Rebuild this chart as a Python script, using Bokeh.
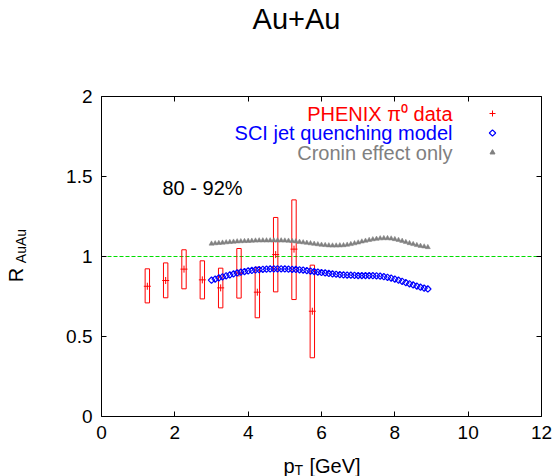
import numpy as np
from bokeh.plotting import figure
from bokeh.models import Range1d, LinearAxis, Label, FixedTicker
from bokeh.embed import file_html
from bokeh.resources import INLINE

# ---------------- data ----------------
pt_data = [1.25, 1.75, 2.25, 2.75, 3.25, 3.75, 4.25, 4.75, 5.25, 5.75]
r_data = [0.814, 0.850, 0.921, 0.854, 0.804, 0.896, 0.777, 1.012, 1.046, 0.658]
sys_hi = [0.923, 0.960, 1.042, 0.973, 0.927, 1.050, 0.933, 1.244, 1.354, 0.946]
sys_lo = [0.710, 0.742, 0.798, 0.735, 0.679, 0.740, 0.617, 0.779, 0.731, 0.367]

pt_model = [3.0, 3.1, 3.2, 3.3, 3.4, 3.5, 3.6, 3.7, 3.8, 3.9,
            4.0, 4.1, 4.2, 4.3, 4.4, 4.5, 4.6, 4.7, 4.8, 4.9,
            5.0, 5.1, 5.2, 5.3, 5.4, 5.5, 5.6, 5.7, 5.8, 5.9,
            6.0, 6.1, 6.2, 6.3, 6.4, 6.5, 6.6, 6.7, 6.8, 6.9,
            7.0, 7.1, 7.2, 7.3, 7.4, 7.5, 7.6, 7.7, 7.8, 7.9,
            8.0, 8.1, 8.2, 8.3, 8.4, 8.5, 8.6, 8.7, 8.8, 8.9]
r_sci = [0.852, 0.859, 0.866, 0.873, 0.879, 0.885, 0.891, 0.897, 0.902, 0.906,
         0.910, 0.913, 0.916, 0.918, 0.920, 0.921, 0.922, 0.923, 0.923, 0.923,
         0.922, 0.921, 0.920, 0.919, 0.917, 0.915, 0.912, 0.909, 0.906, 0.903,
         0.900, 0.897, 0.894, 0.891, 0.889, 0.887, 0.885, 0.884, 0.883, 0.882,
         0.881, 0.881, 0.881, 0.881, 0.880, 0.879, 0.877, 0.874, 0.870, 0.865,
         0.859, 0.852, 0.845, 0.837, 0.829, 0.822, 0.815, 0.808, 0.802, 0.797]
r_cronin = [1.080, 1.082, 1.084, 1.086, 1.088, 1.090, 1.092, 1.094, 1.095, 1.096,
            1.097, 1.098, 1.099, 1.100, 1.100, 1.100, 1.100, 1.100, 1.100, 1.100,
            1.099, 1.098, 1.096, 1.094, 1.091, 1.088, 1.085, 1.082, 1.079, 1.076,
            1.073, 1.071, 1.069, 1.068, 1.068, 1.069, 1.070, 1.073, 1.077, 1.082,
            1.087, 1.093, 1.098, 1.103, 1.107, 1.110, 1.113, 1.114, 1.114, 1.112,
            1.108, 1.103, 1.097, 1.090, 1.083, 1.077, 1.071, 1.066, 1.062, 1.058]

x_ticks = [0, 2, 4, 6, 8, 10, 12]
y_ticks = [0, 0.5, 1, 1.5, 2]
y_tick_labels = ["0", "0.5", "1", "1.5", "2"]
ref_level = 1.0

legend_labels = ["PHENIX \u03c0\u2070 data", "SCI jet quenching model", "Cronin effect only"]
title_text = "Au+Au"
centrality_text = "80 - 92%"
ylabel_main, ylabel_sub = "R", "AuAu"

# ---------------- layout ----------------
W, H = 557, 476
FL, FR, FT, FB = 101, 541, 96, 416   # pixel box of the plotting area
XMIN, XMAX, YMIN, YMAX = 0, 12, 0, 2
FONT = "Liberation Sans"

sx = (FR - FL) / (XMAX - XMIN)
sy = (FB - FT) / (YMAX - YMIN)
x_lo = XMIN - FL / sx
x_hi = XMIN + (W - FL) / sx
y_lo = YMIN - (H - FB) / sy
y_hi = YMIN + FB / sy


def to_data(px, py):
    return XMIN + (px - FL) / sx, YMIN + (FB - py) / sy


p = figure(width=W, height=H, output_backend="svg", toolbar_location=None,
           x_range=Range1d(x_lo, x_hi), y_range=Range1d(y_lo, y_hi),
           min_border=0, x_axis_location=None, y_axis_location=None)
p.grid.visible = False
p.outline_line_color = None
p.background_fill_color = "white"
p.border_fill_color = "white"


def make_axis(ticks, bounds, loc, show_labels, overrides=None):
    ax = LinearAxis(ticker=FixedTicker(ticks=ticks), bounds=bounds,
                    fixed_location=loc)
    ax.major_tick_in = 5
    ax.major_tick_out = 0
    ax.minor_tick_in = 0
    ax.minor_tick_out = 0
    ax.axis_line_color = "black"
    ax.axis_line_width = 1
    ax.major_tick_line_color = "black"
    ax.major_label_text_font = FONT
    ax.major_label_text_color = "black"
    ax.major_label_standoff = 9
    if show_labels:
        ax.major_label_text_font_size = "19px"
        if overrides:
            ax.major_label_overrides = overrides
    else:
        ax.major_label_text_font_size = "0px"
        ax.major_label_text_color = None
    return ax


p.add_layout(make_axis(x_ticks, (XMIN, XMAX), YMIN, True,
                       {t: str(t) for t in x_ticks}), "below")
p.add_layout(make_axis(y_ticks, (YMIN, YMAX), XMIN, True,
                       dict(zip(y_ticks, y_tick_labels))), "left")
p.add_layout(make_axis(x_ticks, (XMIN, XMAX), YMAX, False), "above")
p.add_layout(make_axis(y_ticks, (YMIN, YMAX), XMAX, False), "right")


# y axis title R_AuAu: two tick-less axes carrying rotated axis labels
def label_axis(text, size, py_center, standoff):
    _, yc = to_data(0, py_center)
    ax = LinearAxis(ticker=FixedTicker(ticks=[]), fixed_location=XMIN,
                    bounds=(yc - 0.02, yc + 0.02))
    ax.axis_line_color = None
    ax.major_tick_line_color = None
    ax.minor_tick_line_color = None
    ax.major_label_text_font_size = "0px"
    ax.axis_label = text
    ax.axis_label_text_font = FONT
    ax.axis_label_text_font_style = "normal"
    ax.axis_label_text_font_size = size
    ax.axis_label_text_color = "black"
    ax.axis_label_standoff = standoff
    return ax


p.add_layout(label_axis(ylabel_main, "20px", 274.5, 75), "left")
p.add_layout(label_axis(ylabel_sub, "14px", 245.5, 73), "left")

# reference line at 1
p.line([XMIN, XMAX], [ref_level, ref_level], line_color="#00dd00",
       line_width=1, line_dash="4 2")

# PHENIX systematic boxes and points
half = 0.06
p.quad(left=[x - half for x in pt_data], right=[x + half for x in pt_data],
       top=sys_hi, bottom=sys_lo, fill_color=None, line_color="#ff0000",
       line_width=1)
p.scatter(pt_data, r_data, marker="cross", size=7, line_color="#ff0000",
          line_width=1)

# models
p.scatter(pt_model, r_cronin, marker="triangle", size=5,
          fill_color="#808080", line_color="#808080", line_width=0.5)
p.scatter(pt_model, r_sci, marker="square", angle=np.pi / 4, size=4.5,
          fill_color=None, line_color="#0000ff", line_width=1.2)

# legend (gnuplot style: text, then sample on the right)
leg_colors = ["#ff0000", "#0000ff", "#808080"]
leg_rows = [113, 132.5, 152]
for txt, col, row in zip(legend_labels, leg_colors, leg_rows):
    lx, ly = to_data(452, row)
    p.add_layout(Label(x=lx, y=ly, text=txt, text_font=FONT,
                       text_font_size="20px", text_color=col,
                       text_align="right", text_baseline="middle"))
mx, my0 = to_data(492, leg_rows[0])
_, my1 = to_data(492, leg_rows[1])
_, my2 = to_data(492, leg_rows[2])
p.scatter([mx], [my0], marker="cross", size=6, line_color="#ff0000", line_width=1)
p.scatter([mx], [my1], marker="square", angle=np.pi / 4, size=4.5,
          fill_color=None, line_color="#0000ff", line_width=1.2)
p.scatter([mx], [my2], marker="triangle", size=5, fill_color="#808080",
          line_color="#808080")

# centrality label
cx, cy = to_data(162, 187)
p.add_layout(Label(x=cx, y=cy, text=centrality_text, text_font=FONT,
                   text_font_size="20px", text_color="black",
                   text_align="left", text_baseline="middle"))

# title
tx, ty = to_data(296, 18)
p.add_layout(Label(x=tx, y=ty, text=title_text, text_font=FONT,
                   text_font_size="29px", text_color="black",
                   text_align="center", text_baseline="middle"))

# x axis label: p_T [GeV]
for txt, px, py, fs in [("p", 283, 465, "20px"), ("T", 294, 469, "14px"),
                        ("[GeV]", 309, 465, "20px")]:
    lx, ly = to_data(px, py)
    p.add_layout(Label(x=lx, y=ly, text=txt, text_font=FONT,
                       text_font_size=fs, text_color="black",
                       text_align="left", text_baseline="middle"))

open("out.html", "w").write(file_html(p, INLINE))
